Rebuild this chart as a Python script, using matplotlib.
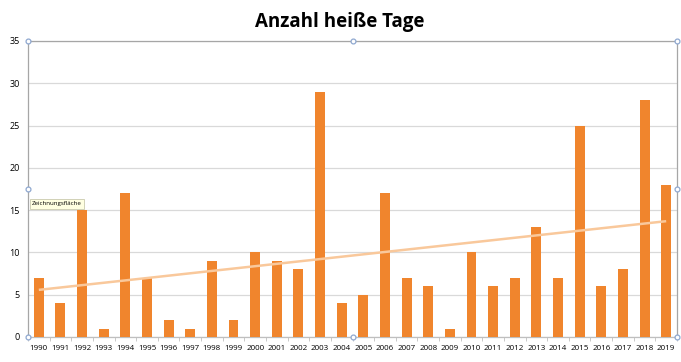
import matplotlib
matplotlib.use("Agg")
import matplotlib.pyplot as plt
import numpy as np

years = [str(y) for y in range(1990, 2020)]
hot_days = [7, 4, 15, 1, 17, 7, 2, 1, 9, 2, 10, 9, 8, 29, 4, 5, 17, 7, 6, 1,
            10, 6, 7, 13, 7, 25, 6, 8, 28, 18]
title = "Anzahl heiße Tage"
yticks = [0, 5, 10, 15, 20, 25, 30, 35]

plt.rcParams['font.family'] = ['Open Sans', 'DejaVu Sans']

fig = plt.figure(figsize=(6.81, 3.62), dpi=100)
ax = fig.add_axes([28/681, 1-337/362, (677-28)/681, (337-41)/362])

x = np.arange(len(years))
ax.bar(x, hot_days, width=0.46, color='#F0852D', zorder=3)

coef = np.polyfit(x, hot_days, 1)
ax.plot([x[0], x[-1]], np.polyval(coef, [x[0], x[-1]]), color='#F9C89B', lw=1.8, zorder=4, solid_capstyle='butt')

ax.set_xlim(-0.5, len(years) - 0.5)
ax.set_ylim(0, 35)
ax.set_yticks(yticks)
ax.set_yticklabels([str(v) for v in yticks], fontsize=6.5)
ax.set_xticks(x)
ax.set_xticklabels(years, fontsize=5.8)
ax.yaxis.grid(True, color='#D9D9D9', lw=0.9, zorder=0)
ax.tick_params(axis='y', length=0, pad=6)
ax.set_xticks(np.arange(-0.5, len(years), 1), minor=True)
ax.tick_params(axis='x', which='major', length=0, pad=6)
ax.tick_params(axis='x', which='minor', length=3, color='#BFBFBF')
for s in ['top', 'right', 'left', 'bottom']:
    ax.spines[s].set_color('#A6A6A6')
    ax.spines[s].set_linewidth(0.9)
ax.spines['bottom'].set_color('#BFBFBF')

fig.text(340/681, 1-22/362, title, ha='center', va='center', fontsize=13.5, fontweight='bold')

# selection handles
for hx, hy in [(0, 0), (0.5, 0), (1, 0), (0, 0.5), (1, 0.5), (0, 1), (0.5, 1), (1, 1)]:
    ax.plot([hx], [hy], marker='o', ms=3.5, mfc='white', mec='#8FA8D0', mew=0.9,
            transform=ax.transAxes, clip_on=False, zorder=10)

fig.text(32/681, 1-204/362, "Zeichnungsfläche", fontsize=4.4, va='center', ha='left',
         bbox=dict(boxstyle='square,pad=0.35', fc='#FFFFE1', ec='#BFBFA0', lw=0.5), zorder=11)

fig.savefig("out.png", dpi=100)
